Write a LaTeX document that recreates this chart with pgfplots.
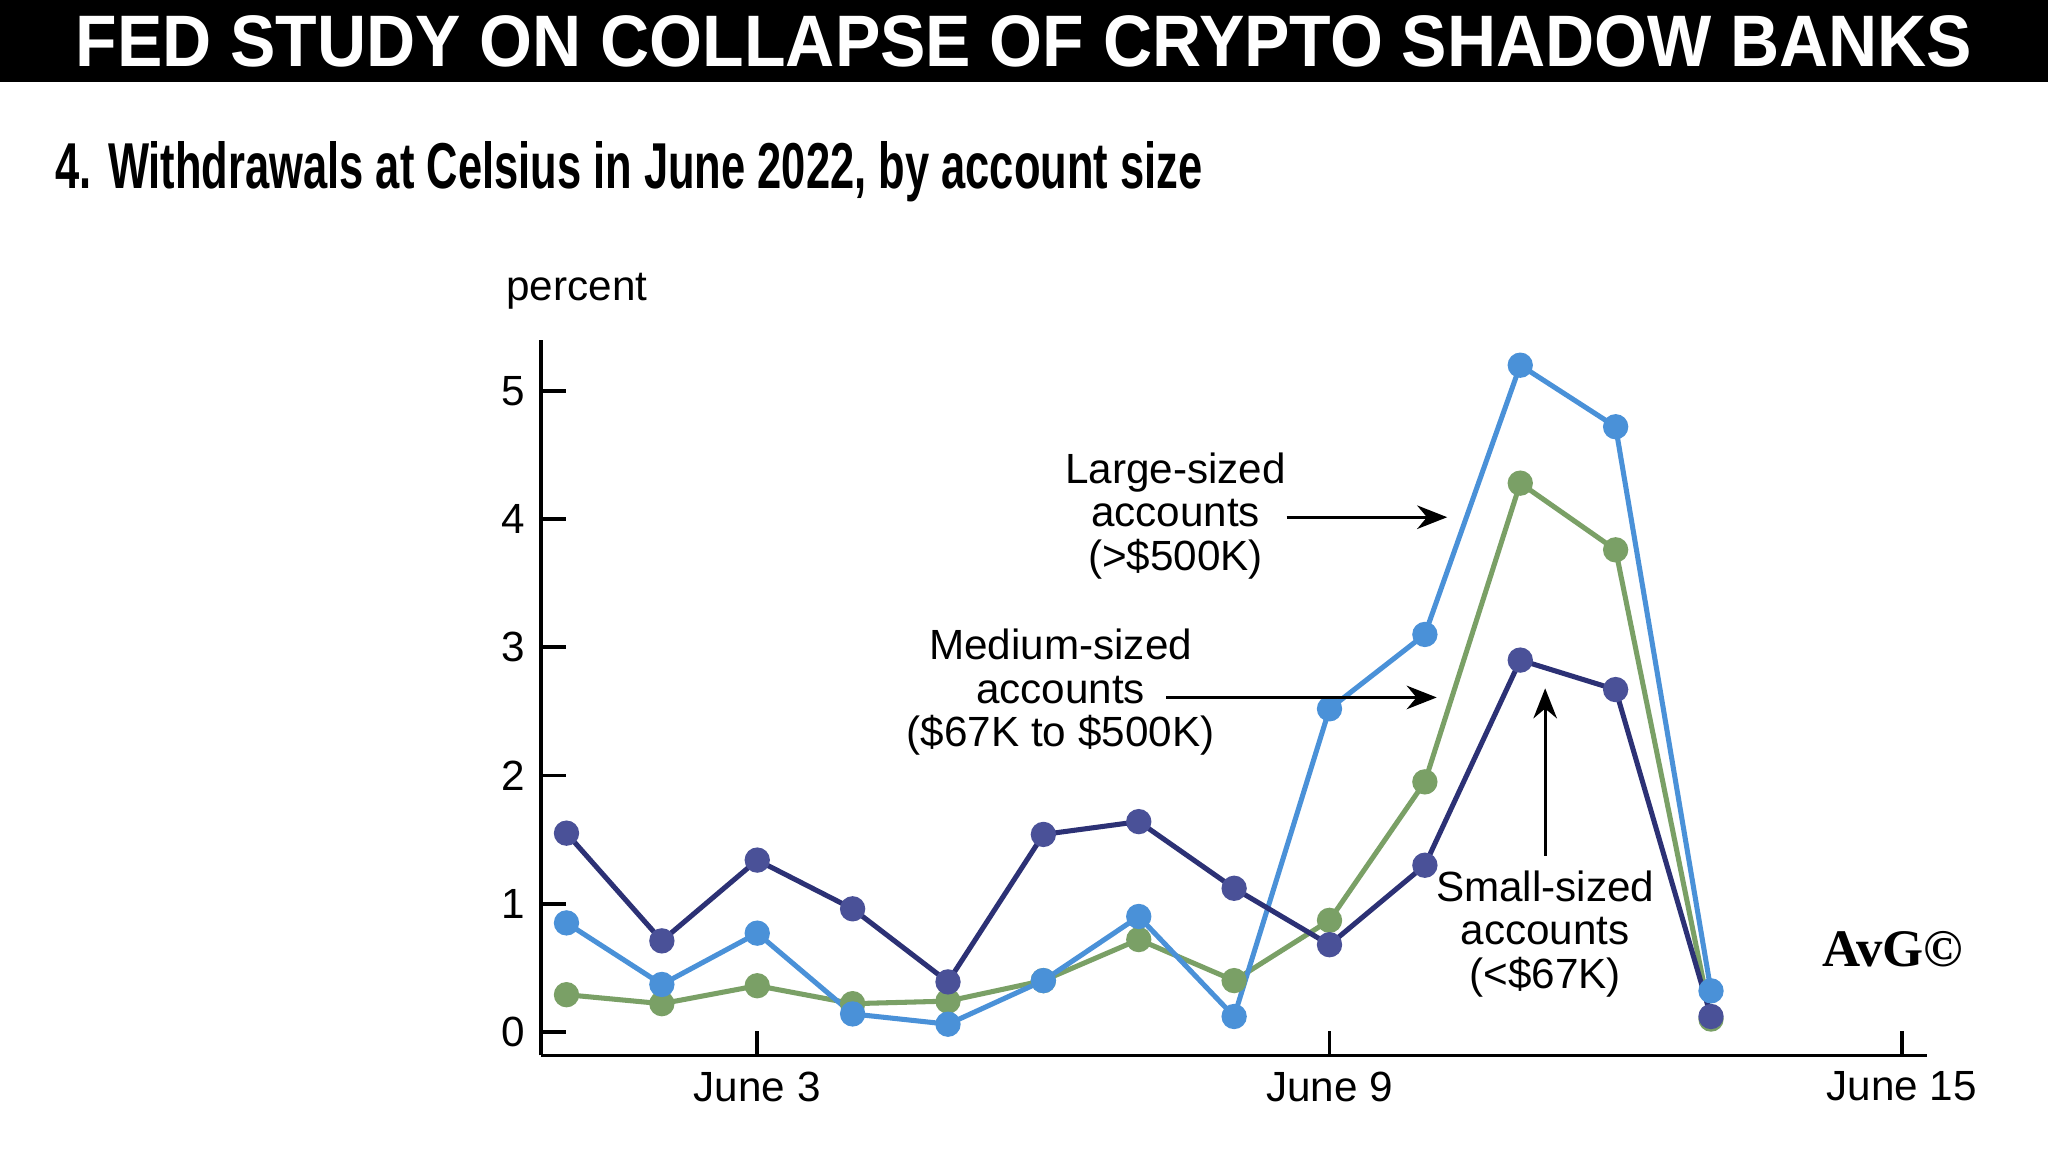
\documentclass[border=0pt]{standalone}
\usepackage{fontspec}
\setmainfont{Liberation Sans}
\newfontfamily\serifbf{Liberation Serif}
\usepackage{graphicx}
\usepackage{pgfplots}
\pgfplotsset{compat=1.18}
\usetikzlibrary{arrows.meta}
\definecolor{navyline}{HTML}{2C3175}
\definecolor{navymark}{HTML}{4A5198}
\definecolor{blueline}{HTML}{4A91D8}
\definecolor{greenline}{HTML}{7AA066}
\begin{document}
\begin{tikzpicture}
\path[use as bounding box, fill=white] (0,0) rectangle (156.8mm,88.1mm);
\fill[black] (0,81.8mm) rectangle (156.8mm,88.1mm);
\node[inner sep=0, text=white, anchor=center] at (78.4mm,84.9mm)
  {\resizebox{145.2mm}{3.9mm}{\bfseries FED STUDY ON COLLAPSE OF CRYPTO SHADOW BANKS}};
\node[inner sep=0, anchor=base west] at (4.2mm,73.7mm)
  {\resizebox{87.8mm}{3.6mm}{\bfseries 4. Withdrawals at Celsius in June 2022, by account size}};
\node[inner sep=0, anchor=base west, font=\fontsize{9.2}{11}\selectfont] at (38.7mm,65.1mm) {percent};

\begin{axis}[
  at={(41.4mm,7.3mm)}, anchor=south west,
  scale only axis, width=106.1mm, height=54.8mm,
  xmin=0.73, xmax=15.26, ymin=-0.183, ymax=5.40,
  axis x line=bottom, axis y line=left,
  axis line style={-, line width=0.8pt, black},
  xtick={3,9,15}, xticklabels={June 3, June 9, June 15},
  ytick={0,1,2,3,4,5},
  tick align=inside, major tick length=1.9mm,
  tick style={black, line width=0.8pt},
  ticklabel style={font=\fontsize{9.2}{11}\selectfont},
  /pgf/number format/assume math mode=true,
  clip=false,
]
\addplot[greenline, line width=1.1pt, mark=*, mark size=2.2pt, mark options={fill=greenline, draw=greenline}] coordinates {
(1,0.29) (2,0.22) (3,0.36) (4,0.22) (5,0.24) (6,0.40) (7,0.72) (8,0.40) (9,0.87) (10,1.95) (11,4.28) (12,3.76) (13,0.10)};
\addplot[blueline, line width=1.1pt, mark=*, mark size=2.2pt, mark options={fill=blueline, draw=blueline}] coordinates {
(1,0.85) (2,0.37) (3,0.77) (4,0.14) (5,0.06) (6,0.40) (7,0.90) (8,0.12) (9,2.52) (10,3.10) (11,5.20) (12,4.72) (13,0.32)};
\addplot[navyline, line width=1.1pt, mark=*, mark size=2.2pt, mark options={fill=navymark, draw=navymark}] coordinates {
(1,1.55) (2,0.71) (3,1.34) (4,0.96) (5,0.39) (6,1.54) (7,1.64) (8,1.12) (9,0.68) (10,1.30) (11,2.90) (12,2.67) (13,0.12)};
\end{axis}

\begin{scope}[font=\fontsize{9.2}{9.5}\selectfont]
\node[align=center, inner sep=0] at (90.0mm,48.6mm) {Large-sized\\accounts\\(>\$500K)};
\node[align=center, inner sep=0] at (81.2mm,35.1mm) {Medium-sized\\accounts\\(\$67K to \$500K)};
\node[align=center, inner sep=0] at (118.3mm,16.6mm) {Small-sized\\accounts\\(<\$67K)};
\end{scope}
\draw[line width=0.7pt, -{Stealth[length=2.3mm, width=1.8mm]}] (98.5mm,48.5mm) -- (110.8mm,48.5mm);
\draw[line width=0.7pt, -{Stealth[length=2.3mm, width=1.8mm]}] (89.3mm,34.7mm) -- (110.0mm,34.7mm);
\draw[line width=0.7pt, -{Stealth[length=2.3mm, width=1.8mm]}] (118.3mm,22.6mm) -- (118.3mm,35.4mm);
\node[inner sep=0, font=\serifbf\bfseries\fontsize{11.5}{12}\selectfont] at (144.9mm,15.4mm) {AvG©};
\end{tikzpicture}
\end{document}
